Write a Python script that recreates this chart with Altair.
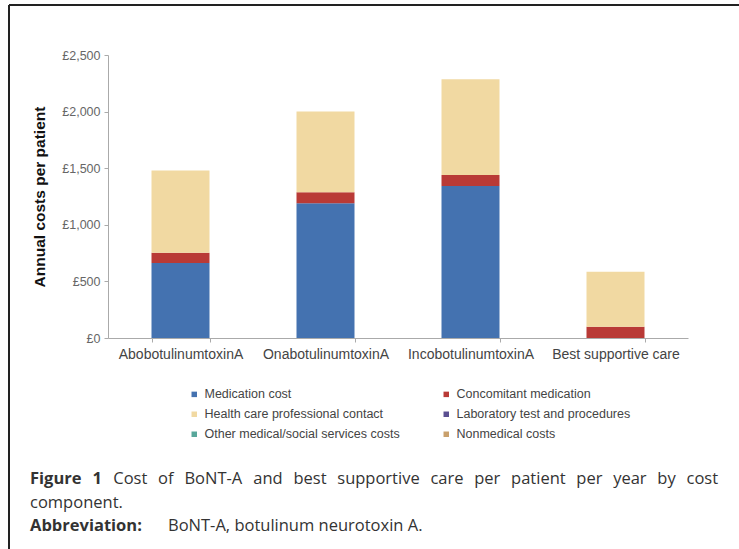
import altair as alt
import pandas as pd

treatments = ["AbobotulinumtoxinA", "OnabotulinumtoxinA", "IncobotulinumtoxinA", "Best supportive care"]
components = [
    "Medication cost",
    "Concomitant medication",
    "Health care professional contact",
    "Laboratory test and procedures",
    "Other medical/social services costs",
    "Nonmedical costs",
]
colors = ["#4472b0", "#b93a36", "#f1d9a2", "#5b4f91", "#58a79b", "#c9a06c"]

medication = [662, 1190, 1343, 0]
concomitant = [92, 97, 97, 100]
hcp = [726, 713, 845, 486]
lab = [0, 0, 0, 0]
other = [0, 0, 0, 0]
nonmedical = [0, 0, 0, 0]

series = [medication, concomitant, hcp, lab, other, nonmedical]
rows = []
for ci, (comp, vals) in enumerate(zip(components, series)):
    for t, v in zip(treatments, vals):
        rows.append({"treatment": t, "component": comp, "cost": v, "order": ci})
df = pd.DataFrame(rows)

# legend fills column by column: list entries so rows read as in the figure
legend_order = [components[0], components[2], components[4],
                components[1], components[3], components[5]]

caption_bold = ["Figure 1", "Abbreviation:"]
caption_text = [
    "Cost of BoNT-A and best supportive care per patient per year by cost",
    "component.",
    "BoNT-A, botulinum neurotoxin A.",
]

W, H = 580, 283
PADL, PADT = 108, 55
CAPFONT = "Open Sans"
CAPSIZE = 16.5

# approximate Open Sans advance widths (units of 2048) for justifying the first caption line
ADV = {"a": 1139, "b": 1255, "c": 975, "d": 1255, "e": 1149, "f": 694, "g": 1122, "h": 1257,
       "i": 518, "j": 518, "k": 1075, "l": 518, "m": 1905, "n": 1257, "o": 1237, "p": 1255,
       "q": 1255, "r": 836, "s": 977, "t": 723, "u": 1257, "v": 1026, "w": 1593, "x": 1073,
       "y": 1028, "z": 924, "A": 1296, "B": 1327, "C": 1292, "N": 1556, "T": 1145, "F": 1114,
       "-": 659, "1": 1171, ".": 545, ",": 498, ":": 545}


def text_width(s, bold=False):
    w = sum(ADV.get(ch, 1150) for ch in s) / 2048 * CAPSIZE
    return w * (1.07 if bold else 1.0)


bars = alt.Chart(df).mark_bar(size=58).encode(
    x=alt.X("treatment:N", sort=treatments,
            scale=alt.Scale(paddingInner=0.6, paddingOuter=0.3),
            axis=alt.Axis(title=None, labelAngle=0, labelFontSize=14, labelColor="#444",
                          labelFont="Liberation Sans", domainColor="#aaa", tickColor="#aaa",
                          tickBand="extent", tickSize=4, labelPadding=5, labelLimit=300)),
    y=alt.Y("cost:Q", stack="zero",
            scale=alt.Scale(domain=[0, 2500]),
            axis=alt.Axis(values=[0, 500, 1000, 1500, 2000, 2500], grid=False,
                          labelExpr="'£' + format(datum.value, ',')",
                          labelFontSize=12.5, labelColor="#666", labelFont="Liberation Sans",
                          domainColor="#aaa", tickColor="#aaa", tickSize=4, labelPadding=4,
                          title="Annual costs per patient", titleFont="Liberation Sans",
                          titleFontSize=15.5, titleFontWeight="bold", titleColor="#111",
                          titleX=-69, titleY=H / 2, titleAngle=270,
                          titleAlign="center", titleBaseline="middle")),
    color=alt.Color("component:N", sort=components,
                    scale=alt.Scale(domain=components, range=colors),
                    legend=alt.Legend(title=None, orient="none", legendX=80, legendY=333,
                                      columns=2, columnPadding=40, rowPadding=7,
                                      symbolType="square", symbolSize=30, symbolStrokeWidth=0,
                                      labelFont="Liberation Sans", labelFontSize=12.5,
                                      labelColor="#444", labelLimit=400, values=legend_order)),
    order=alt.Order("order:Q"),
)


def cap_text(txt, x, y, bold):
    return alt.Chart(pd.DataFrame({"t": [txt]})).mark_text(
        align="left", baseline="middle", font=CAPFONT, fontSize=CAPSIZE,
        fontWeight="bold" if bold else "normal", color="#333"
    ).encode(text="t:N", x=alt.value(x - PADL), y=alt.value(y - PADT))


# first caption line is justified between x=30 and x=718
LEFT, RIGHT = 30, 718
words = [(w, True) for w in caption_bold[0].split()] + [(w, False) for w in caption_text[0].split()]
natural = sum(text_width(w, b) for w, b in words)
gap = (RIGHT - LEFT - natural) / (len(words) - 1)
cap = []
xpos = LEFT
for w, b in words:
    cap.append(cap_text(w, xpos, 479, b))
    xpos += text_width(w, b) + gap

cap += [
    cap_text(caption_text[1], 30, 503, False),
    cap_text(caption_bold[1], 30, 526, True),
    cap_text(caption_text[2], 168, 526, False),
]

frame_top = alt.Chart(pd.DataFrame({"a": [0]})).mark_rule(color="#222", strokeWidth=2).encode(
    x=alt.value(9 - PADL), x2=alt.value(739 - PADL), y=alt.value(5 - PADT))
frame_left = alt.Chart(pd.DataFrame({"a": [0]})).mark_rule(color="#222", strokeWidth=2).encode(
    x=alt.value(9 - PADL), y=alt.value(5 - PADT), y2=alt.value(549 - PADT))

chart = alt.layer(bars, *cap, frame_top, frame_left).properties(
    width=W, height=H,
    autosize=alt.AutoSizeParams(type="none"),
    padding={"left": PADL, "top": PADT, "right": 739 - PADL - W, "bottom": 549 - PADT - H},
    background="white",
).configure_view(stroke=None)

chart.save("out.html", embed_options={"renderer": "svg", "actions": False})
